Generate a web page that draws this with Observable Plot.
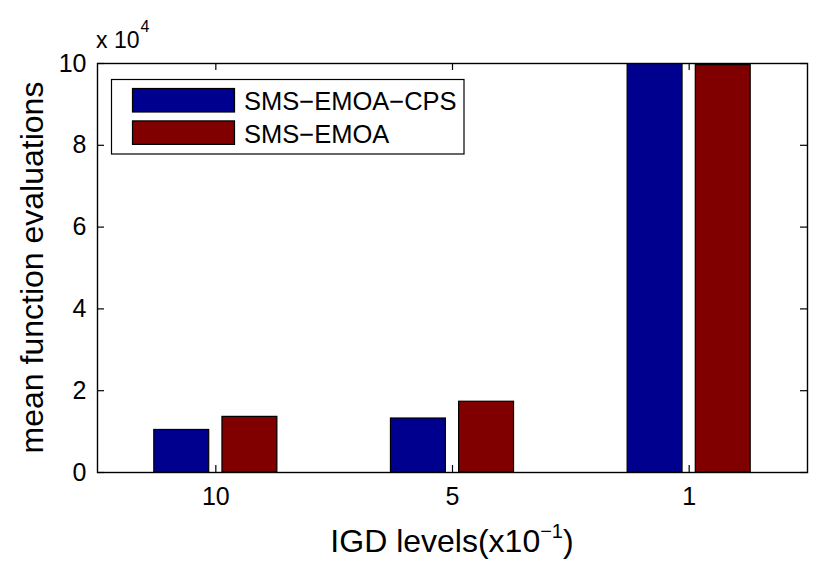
<!DOCTYPE html>
<html><head><meta charset="utf-8">
<script src="https://cdn.jsdelivr.net/npm/d3@7"></script>
<script src="https://cdn.jsdelivr.net/npm/@observablehq/plot@0.6"></script>
<style>body{margin:0;background:#fff} #chart svg{display:block}</style>
</head><body><div id="chart"></div>
<script>
const groups = ["10", "5", "1"];
const series = ["SMS\u2212EMOA\u2212CPS", "SMS\u2212EMOA"];
const cpsValues = [1.04, 1.32, 10.0];
const emoaValues = [1.36, 1.73, 9.96];
const yTicks = [0, 2, 4, 6, 8, 10];
const xTicks = [1, 2, 3];
const colors = ["#00008F", "#800000"];
const barWidth = 0.232, barOffset = 0.144;

const rows = [];
groups.forEach((g, i) => {
  rows.push({pos: i + 1, series: series[0], value: cpsValues[i], off: -barOffset});
  rows.push({pos: i + 1, series: series[1], value: emoaValues[i], off: barOffset});
});

const W = 830, H = 562, ml = 97, mr = 23, mt = 63, mb = 90;
const pw = W - ml - mr, ph = H - mt - mb;
const font = "'Liberation Sans', Arial, Helvetica, sans-serif";

const chart = Plot.plot({
  width: W, height: H,
  marginLeft: ml, marginRight: mr, marginTop: mt, marginBottom: mb,
  style: {fontFamily: font, background: "#fff", color: "#000", overflow: "visible"},
  x: {type: "linear", domain: [0.5, 3.5], label: null},
  y: {domain: [0, 10], label: null},
  color: {domain: series, range: colors},
  marks: [
    Plot.rect(rows, {
      x1: d => d.pos + d.off - barWidth / 2,
      x2: d => d.pos + d.off + barWidth / 2,
      y1: 0, y2: "value", fill: "series", stroke: "#000", strokeWidth: 1.2, clip: true
    }),
    Plot.tickY(yTicks, {y: d => d, insetRight: pw - 7, stroke: "#000", strokeWidth: 1.2}),
    Plot.tickY(yTicks, {y: d => d, insetLeft: pw - 7, stroke: "#000", strokeWidth: 1.2}),
    Plot.tickX(xTicks, {x: d => d, insetTop: ph - 7, stroke: "#000", strokeWidth: 1.2}),
    Plot.tickX(xTicks, {x: d => d, insetBottom: ph - 7, stroke: "#000", strokeWidth: 1.2}),
    Plot.axisY(yTicks, {tickSize: 0, tickPadding: 11, fontSize: 25, label: null}),
    Plot.axisX(xTicks, {tickSize: 0, tickPadding: 15, fontSize: 25, label: null, tickFormat: d => groups[d - 1]}),
    Plot.frame({stroke: "#000", strokeWidth: 1.4})
  ]
});

const svg = d3.select(chart);

// y-axis label
svg.append("text")
  .attr("transform", `translate(43,${mt + ph / 2}) rotate(-90)`)
  .attr("text-anchor", "middle")
  .attr("font-family", font).attr("font-size", 32).attr("fill", "#000")
  .text("mean function evaluations");

// x-axis label with superscript
const xl = svg.append("text")
  .attr("x", ml + pw / 2).attr("y", 552)
  .attr("text-anchor", "middle")
  .attr("font-family", font).attr("font-size", 32).attr("fill", "#000");
xl.append("tspan").text("IGD levels(x10");
xl.append("tspan").attr("font-size", 20).attr("dy", -14).text("\u22121");
xl.append("tspan").attr("dy", 14).text(")");

// exponent label
const ex = svg.append("text")
  .attr("x", 96).attr("y", 48).attr("text-anchor", "start")
  .attr("font-family", font).attr("font-size", 23).attr("fill", "#000");
ex.append("tspan").text("x 10");
ex.append("tspan").attr("font-size", 16).attr("dy", -16).attr("dx", 1).text("4");

// legend
const lg = svg.append("g").attr("text-anchor", "start");
lg.append("rect").attr("x", 111.5).attr("y", 79.5).attr("width", 352.5).attr("height", 74.5)
  .attr("fill", "#fff").attr("stroke", "#000").attr("stroke-width", 1.2);
series.forEach((s, i) => {
  lg.append("rect").attr("x", 132.5).attr("y", 88.5 + i * 32.4).attr("width", 102).attr("height", 23.5)
    .attr("fill", colors[i]).attr("stroke", "#000").attr("stroke-width", 1.2);
  lg.append("text").attr("x", 244).attr("y", 110 + i * 32.7).attr("text-anchor", "start")
    .attr("font-family", font).attr("font-size", 25.5).attr("fill", "#000").text(s);
});

document.getElementById("chart").appendChild(chart);
</script>
</body></html>
